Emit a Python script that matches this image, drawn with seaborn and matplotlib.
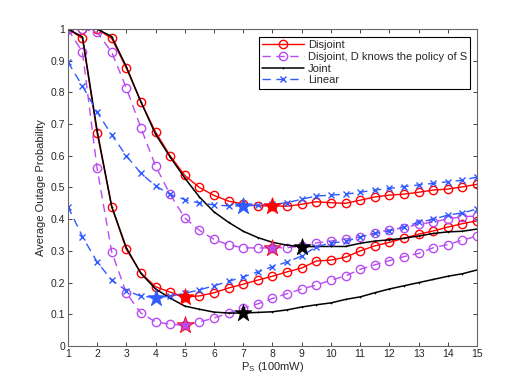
import numpy as np
import pandas as pd
import matplotlib
matplotlib.use('Agg')
import matplotlib.pyplot as plt
import seaborn as sns

# x grid (P_S in 100mW)
ps = [1, 1.5, 2, 2.5, 3, 3.5, 4, 4.5, 5, 5.5, 6, 6.5, 7, 7.5, 8, 8.5, 9, 9.5,
      10, 10.5, 11, 11.5, 12, 12.5, 13, 13.5, 14, 14.5, 15]

# upper family of curves
disjoint_hi = [1.0, 1.0, 1.0, 0.97, 0.877, 0.77, 0.675, 0.60, 0.538, 0.50, 0.475, 0.457, 0.448,
               0.442, 0.442, 0.441, 0.447, 0.455, 0.452, 0.45, 0.46, 0.47, 0.476, 0.479, 0.485,
               0.492, 0.495, 0.502, 0.51]
dknows_hi = [1.0, 1.0, 0.99, 0.927, 0.814, 0.688, 0.568, 0.478, 0.404, 0.365, 0.336, 0.319, 0.31,
             0.309, 0.31, 0.31, 0.315, 0.325, 0.331, 0.338, 0.344, 0.356, 0.366, 0.373, 0.384,
             0.391, 0.401, 0.408, 0.41]
joint_hi = [1.0, 1.0, 1.0, 0.976, 0.881, 0.77, 0.668, 0.596, 0.53, 0.47, 0.423, 0.39, 0.362,
            0.342, 0.327, 0.318, 0.313, 0.314, 0.314, 0.314, 0.324, 0.331, 0.335, 0.34, 0.347,
            0.355, 0.36, 0.362, 0.369]
linear_hi = [0.896, 0.82, 0.738, 0.666, 0.60, 0.545, 0.505, 0.478, 0.462, 0.451, 0.445, 0.442,
             0.442, 0.444, 0.447, 0.452, 0.463, 0.473, 0.476, 0.479, 0.485, 0.492, 0.497, 0.503,
             0.508, 0.513, 0.518, 0.523, 0.533]

# lower family of curves
disjoint_lo = [1.0, 0.97, 0.672, 0.44, 0.305, 0.23, 0.187, 0.17, 0.155, 0.158, 0.168, 0.183, 0.195,
               0.208, 0.22, 0.234, 0.246, 0.268, 0.271, 0.28, 0.30, 0.316, 0.327, 0.34, 0.353,
               0.363, 0.375, 0.386, 0.395]
dknows_lo = [1.0, 0.927, 0.56, 0.297, 0.167, 0.104, 0.076, 0.069, 0.065, 0.076, 0.088, 0.104, 0.12,
             0.133, 0.15, 0.165, 0.18, 0.192, 0.208, 0.221, 0.242, 0.256, 0.269, 0.282, 0.292,
             0.31, 0.32, 0.334, 0.347]
joint_lo = [1.0, 0.975, 0.68, 0.44, 0.31, 0.229, 0.18, 0.151, 0.126, 0.116, 0.107, 0.104, 0.104,
            0.106, 0.108, 0.114, 0.123, 0.13, 0.136, 0.147, 0.155, 0.168, 0.18, 0.19, 0.2,
            0.21, 0.22, 0.228, 0.24]
linear_lo = [0.44, 0.345, 0.265, 0.208, 0.175, 0.157, 0.153, 0.157, 0.166, 0.177, 0.19, 0.204,
             0.218, 0.234, 0.25, 0.265, 0.284, 0.313, 0.325, 0.33, 0.344, 0.355, 0.363, 0.376,
             0.39, 0.40, 0.413, 0.42, 0.432]

# optimum points (stars)
star_disjoint_x, star_disjoint_y = [8, 5], [0.442, 0.155]
star_dknows_x, star_dknows_y = [8, 5], [0.31, 0.065]
star_joint_x, star_joint_y = [9, 7], [0.313, 0.104]
star_linear_x, star_linear_y = [7, 4], [0.442, 0.153]

labels = ['Disjoint', 'Disjoint, D knows the policy of S', 'Joint', 'Linear']

RED = '#ff0000'
PURPLE = '#b84cf2'
BLACK = '#000000'
BLUE = '#2f5bff'

sns.set_style('ticks')
plt.rcParams['font.family'] = ['Liberation Sans', 'DejaVu Sans']
plt.rcParams['xtick.direction'] = 'in'
plt.rcParams['ytick.direction'] = 'in'

fig = plt.figure(figsize=(5.26, 3.89), dpi=100)
ax = fig.add_axes([0.129, 0.1105, 0.778, 0.815])

dash = (6, 4)
styles = [
    (disjoint_hi, disjoint_lo, dict(color=RED, marker='o', markersize=6, markerfacecolor='none',
                                    markeredgecolor=RED, markeredgewidth=1.0, linewidth=1.0)),
    (dknows_hi, dknows_lo, dict(color=PURPLE, marker='o', markersize=6, markerfacecolor='none',
                                markeredgecolor=PURPLE, markeredgewidth=1.0, linewidth=1.0,
                                dashes=dash)),
    (joint_hi, joint_lo, dict(color=BLACK, marker='+', markersize=2, markeredgecolor=BLACK,
                              markeredgewidth=0.5, linewidth=1.1)),
    (linear_hi, linear_lo, dict(color=BLUE, marker='x', markersize=4.5, markeredgecolor=BLUE,
                                markeredgewidth=1.0, linewidth=1.0, dashes=dash)),
]

handles = []
for hi, lo, kw in styles:
    sns.lineplot(x=ps, y=hi, ax=ax, sort=False, **kw)
    sns.lineplot(x=ps, y=lo, ax=ax, sort=False, **kw)
    handles.append(ax.lines[-1])

# stars
star_sets = [
    (star_disjoint_x, star_disjoint_y, RED, RED),
    (star_dknows_x, star_dknows_y, PURPLE, RED),
    (star_joint_x, star_joint_y, BLACK, BLACK),
    (star_linear_x, star_linear_y, BLUE, BLUE),
]
for sx, sy, fc, ec in star_sets:
    sns.scatterplot(x=sx, y=sy, ax=ax, marker='*', s=160, color=fc, edgecolor=ec,
                    linewidth=0.6, zorder=5, legend=False)

ax.set_xlim(1, 15)
ax.set_ylim(0, 1)
ax.set_xticks(range(1, 16))
ax.set_yticks([0, 0.1, 0.2, 0.3, 0.4, 0.5, 0.6, 0.7, 0.8, 0.9, 1])
ax.set_yticklabels(['0', '0.1', '0.2', '0.3', '0.4', '0.5', '0.6', '0.7', '0.8', '0.9', '1'])
ax.tick_params(top=True, right=True, labelsize=7.5, length=3, width=0.6, colors='0.15',
               pad=2)
for s in ax.spines.values():
    s.set_visible(True)
    s.set_color('0.4')
    s.set_linewidth(0.8)

ax.set_xlabel(r'P$\mathregular{_S}$ (100mW)', fontsize=8, labelpad=1)
ax.set_ylabel('Average Outage Probability', fontsize=8, labelpad=3)

leg = ax.legend(handles, labels, loc='upper right', bbox_to_anchor=(0.983, 0.975),
                fontsize=8, frameon=True, fancybox=False, framealpha=1,
                edgecolor='black', handlelength=3.8, borderpad=0.3,
                labelspacing=0.15, handletextpad=0.3, borderaxespad=0)
leg.get_frame().set_linewidth(0.8)

fig.savefig('out.png', dpi=100)
